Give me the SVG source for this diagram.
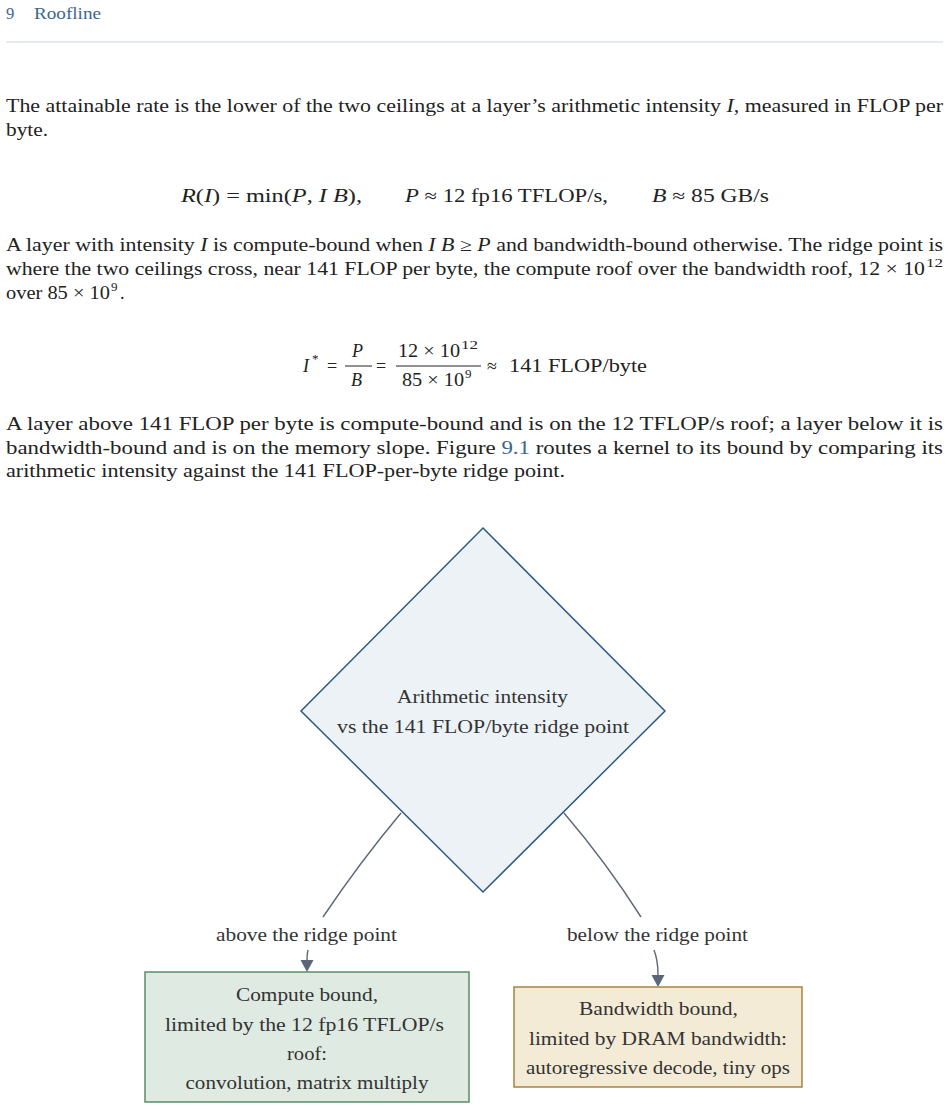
<svg xmlns="http://www.w3.org/2000/svg" width="949" height="1109" viewBox="0 0 949 1109">
<style>
text{font-family:"Liberation Serif","Times New Roman",serif;fill:#222}
.body{font-size:18px}
.sup{font-size:13px}
.hdr{font-size:16.5px;fill:#3d6591}
.it{font-style:italic}
.lab{font-size:18px;fill:#333;text-anchor:middle}
.conn{fill:none;stroke:#5b6678;stroke-width:1.4}
.link{fill:#3d6591}
</style>
<defs>
<marker id="ah" markerUnits="userSpaceOnUse" markerWidth="16" markerHeight="16" viewBox="0 -8 16 16" refX="0" refY="0" orient="auto">
<path d="M0,-6.5 L12,0 L0,6.5 Z" fill="#5b6678"/>
</marker>
</defs>
<rect width="949" height="1109" fill="#ffffff"/>
<g id="header">
<text class="hdr" x="6" y="19">9</text>
<text class="hdr" x="34" y="19" textLength="67" lengthAdjust="spacingAndGlyphs">Roofline</text>
<line x1="6" y1="42" x2="943" y2="42" stroke="#ccd6e0" stroke-width="1.2"/>
</g>
<g id="para1">
<text class="body" x="6" y="112" textLength="937" lengthAdjust="spacingAndGlyphs">The attainable rate is the lower of the two ceilings at a layer’s arithmetic intensity <tspan class="it">I</tspan>, measured in FLOP per</text>
<text class="body" x="6" y="136" textLength="42" lengthAdjust="spacingAndGlyphs">byte.</text>
</g>
<g id="eq1">
<text class="body" x="181" y="202" textLength="181" lengthAdjust="spacingAndGlyphs"><tspan class="it">R</tspan>(<tspan class="it">I</tspan>) = min(<tspan class="it">P</tspan>,  <tspan class="it">I B</tspan>),</text>
<text class="body" x="405" y="202" textLength="203" lengthAdjust="spacingAndGlyphs"><tspan class="it">P</tspan> ≈ 12 fp16 TFLOP/s,</text>
<text class="body" x="652" y="202" textLength="117" lengthAdjust="spacingAndGlyphs"><tspan class="it">B</tspan> ≈ 85 GB/s</text>
</g>
<g id="para2">
<text class="body" x="6" y="251" textLength="937" lengthAdjust="spacingAndGlyphs">A layer with intensity <tspan class="it">I</tspan> is compute-bound when <tspan class="it">I B</tspan> ≥ <tspan class="it">P</tspan> and bandwidth-bound otherwise. The ridge point is</text>
<text class="body" x="6" y="275" textLength="919" lengthAdjust="spacingAndGlyphs">where the two ceilings cross, near 141 FLOP per byte, the compute roof over the bandwidth roof, 12 × 10</text>
<text class="sup" x="926" y="267" textLength="17" lengthAdjust="spacingAndGlyphs">12</text>
<text class="body" x="6" y="299" textLength="104" lengthAdjust="spacingAndGlyphs">over 85 × 10</text>
<text class="sup" x="111" y="291">9</text>
<text class="body" x="120" y="299">.</text>
</g>
<g id="eq2">
<text class="body it" x="303" y="372">I</text>
<text class="sup" x="312" y="363">*</text>
<text class="body" x="327" y="372">=</text>
<text class="body it" x="352" y="357">P</text>
<line x1="345" y1="366" x2="372" y2="366" stroke="#222" stroke-width="1"/>
<text class="body it" x="351" y="386">B</text>
<text class="body" x="376" y="372">=</text>
<text class="body" x="398" y="357" textLength="62" lengthAdjust="spacingAndGlyphs">12 × 10</text>
<text class="sup" x="461" y="349" textLength="17" lengthAdjust="spacingAndGlyphs">12</text>
<line x1="396" y1="366" x2="481" y2="366" stroke="#222" stroke-width="1"/>
<text class="body" x="402" y="386" textLength="62" lengthAdjust="spacingAndGlyphs">85 × 10</text>
<text class="sup" x="465" y="378">9</text>
<text class="body" x="487" y="372">≈</text>
<text class="body" x="509" y="372" textLength="138" lengthAdjust="spacingAndGlyphs">141 FLOP/byte</text>
</g>
<g id="para3">
<text class="body" x="6" y="430" textLength="937" lengthAdjust="spacingAndGlyphs">A layer above 141 FLOP per byte is compute-bound and is on the 12 TFLOP/s roof; a layer below it is</text>
<text class="body" x="6" y="454" textLength="937" lengthAdjust="spacingAndGlyphs">bandwidth-bound and is on the memory slope. Figure <tspan class="link">9.1</tspan> routes a kernel to its bound by comparing its</text>
<text class="body" x="6" y="477" textLength="559" lengthAdjust="spacingAndGlyphs">arithmetic intensity against the 141 FLOP-per-byte ridge point.</text>
</g>
<g id="connectors">
<path class="conn" d="M401,813 Q360,862 323,917"/>
<path class="conn" d="M308,950 Q307,954 307,960" marker-end="url(#ah)"/>
<text class="lab" x="306.5" y="941" textLength="181" lengthAdjust="spacingAndGlyphs">above the ridge point</text>
<path class="conn" d="M564,813 Q606,862 641,917"/>
<path class="conn" d="M654,950 Q658,960 658,975" marker-end="url(#ah)"/>
<text class="lab" x="657.5" y="941" textLength="181" lengthAdjust="spacingAndGlyphs">below the ridge point</text>
</g>
<g id="decision">
<polygon points="483,528 665,711 483,892 301,711" fill="#edf2f7" stroke="#2b5a87" stroke-width="1.5"/>
<text class="lab" x="482.5" y="703" textLength="171" lengthAdjust="spacingAndGlyphs">Arithmetic intensity</text>
<text class="lab" x="483" y="733" textLength="292" lengthAdjust="spacingAndGlyphs">vs the 141 FLOP/byte ridge point</text>
</g>
<g id="compute">
<rect x="145" y="972" width="324" height="130" fill="#dfeae2" stroke="#5b8d64" stroke-width="1.5"/>
<text class="lab" x="307" y="1001" textLength="142" lengthAdjust="spacingAndGlyphs">Compute bound,</text>
<text class="lab" x="304.5" y="1031" textLength="279" lengthAdjust="spacingAndGlyphs">limited by the 12 fp16 TFLOP/s</text>
<text class="lab" x="307" y="1060" textLength="40" lengthAdjust="spacingAndGlyphs">roof:</text>
<text class="lab" x="307" y="1089" textLength="243" lengthAdjust="spacingAndGlyphs">convolution, matrix multiply</text>
</g>
<g id="bandwidth">
<rect x="514" y="987" width="288" height="100" fill="#f4ebd7" stroke="#a5843f" stroke-width="1.5"/>
<text class="lab" x="658.5" y="1015" textLength="159" lengthAdjust="spacingAndGlyphs">Bandwidth bound,</text>
<text class="lab" x="658" y="1045" textLength="258" lengthAdjust="spacingAndGlyphs">limited by DRAM bandwidth:</text>
<text class="lab" x="658" y="1074" textLength="264" lengthAdjust="spacingAndGlyphs">autoregressive decode, tiny ops</text>
</g>
</svg>
